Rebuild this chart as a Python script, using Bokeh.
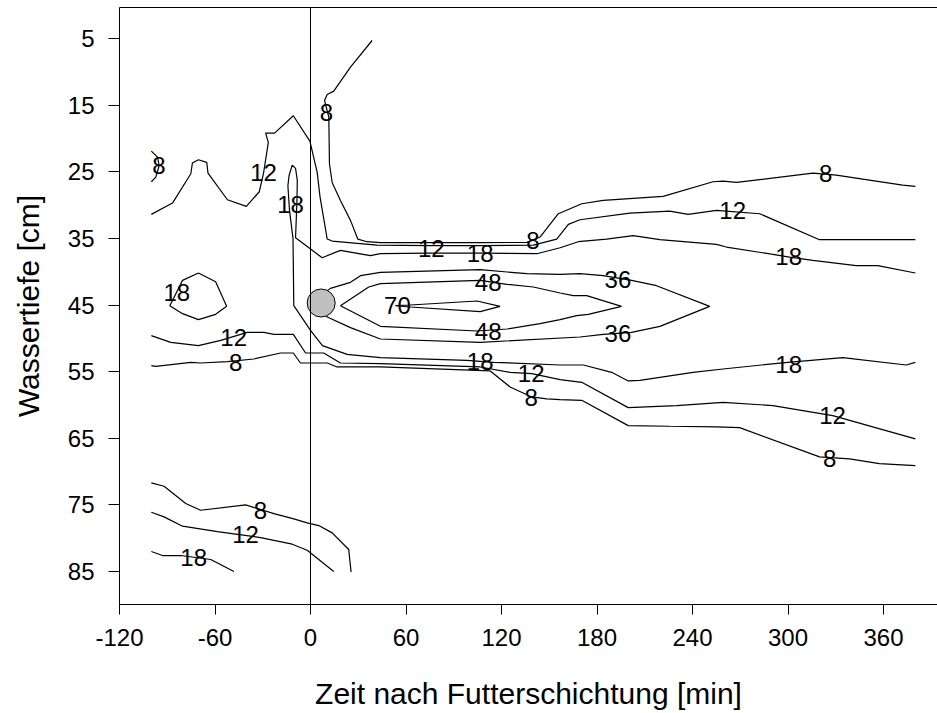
from bokeh.plotting import figure
from bokeh.models import Range1d, FixedTicker, LinearAxis, Span
from bokeh.core.properties import value
from bokeh.embed import file_html
from bokeh.resources import INLINE

# ---------------- data ----------------
x_ticks = [-120, -60, 0, 60, 120, 180, 240, 300, 360]
x_tick_labels = ["-120", "-60", "0", "60", "120", "180", "240", "300", "360"]
y_ticks = [5, 15, 25, 35, 45, 55, 65, 75, 85]
y_tick_labels = ["5", "15", "25", "35", "45", "55", "65", "75", "85"]

# contour 8 (upper, from top down into the trough and out to the right)
c8_up_x = [38.7, 25.1, 14.6, 10.5, 8.8, 11.5, 11.9, 13.6, 18.8, 25.1, 29.7, 35.5, 43.9, 75.2, 106.6,
           135.9, 144.2, 155.7, 170.4, 183.9, 221.5, 252.9, 259.2, 267.6, 315.6, 330.3, 372.0, 380.0]
c8_up_y = [5.3, 9.3, 12.9, 13.4, 14.3, 16.8, 23.8, 26.6, 29.3, 32.3, 35.1, 35.5, 35.65, 35.65, 35.65,
           35.6, 34.8, 31.3, 29.8, 29.3, 28.7, 26.5, 26.4, 26.6, 25.2, 25.5, 27.0, 27.2]

# contour 12 (upper)
c12_up_x = [-100, -86.7, -75.2, -74.2, -70.4, -65.2, -64.4, -52.2, -40.3, -32.2, -29.5, -26.5, -28.2,
            -22.6, -10.8, -0.4, 4.2, 6.0, 10.5, 13.6, 41.8, 75.2, 106.6, 140.0, 154.7, 162.0, 169.3,
            200.7, 225.7, 237.2, 255.0, 282.2, 319.8, 380.0]
c12_up_y = [31.4, 29.7, 25.3, 23.7, 23.2, 23.6, 25.2, 29.2, 30.2, 28.0, 25.2, 20.6, 19.2,
            19.2, 16.6, 20.4, 25.1, 28.8, 35.1, 35.4, 36.0, 36.1, 36.1, 36.0, 35.1, 32.9, 32.2,
            31.2, 30.9, 31.4, 30.8, 31.3, 35.2, 35.2]

# contour 18 (upper branch, spike at t<0 and lower branch)
c18_x = [380.0, 356.4, 342.8, 315.6, 301.0, 261.3, 255.0, 219.5, 202.7, 186.0, 168.2, 156.8, 142.2,
         106.6, 75.2, 43.9, 37.6, 18.8, 7.3, -9.4, -8.5, -8.3, -9.4, -11.5, -13.5, -14.2, -13.2,
         -11.0, -10.5, 0.0, 7.5, 23.0, 43.9, 98.3, 115.0, 156.8, 171.4, 189.2, 199.6, 206.9,
         240.3, 259.2, 299.9, 334.4, 374.2, 380.0]
c18_y = [40.2, 39.1, 39.1, 38.3, 37.8, 36.3, 35.9, 35.2, 34.6, 35.1, 35.5, 36.4, 37.3,
         37.2, 37.2, 37.3, 37.6, 36.8, 37.9, 34.9, 29.3, 26.3, 24.5, 24.0, 25.6, 27.1, 30.8,
         35.0, 45.1, 48.8, 51.1, 52.4, 52.9, 53.3, 53.6, 54.0, 54.0, 55.1, 56.4, 56.3,
         55.1, 54.6, 53.6, 52.9, 54.0, 53.6]

# contour 36 (closed)
c36_x = [12.5, 25.1, 31.4, 43.9, 106.6, 135.9, 156.8, 169.3, 183.9, 201.7, 217.4, 250.8, 219.5,
         201.7, 183.9, 169.3, 106.6, 43.9, 25.1, 10.5, 1.3, 12.5]
c36_y = [42.5, 41.6, 40.6, 40.1, 39.7, 40.3, 40.4, 40.3, 40.6, 41.3, 42.1, 45.2, 48.2,
         49.1, 49.4, 49.8, 50.6, 50.1, 48.4, 46.8, 44.6, 42.5]

# contour 48 (closed)
c48_x = [18.8, 36.6, 43.9, 106.6, 123.4, 140.0, 156.8, 165.1, 173.5, 195.4, 174.5, 167.2, 156.8,
         144.2, 123.4, 104.6, 43.9, 18.8]
c48_y = [45.1, 42.3, 41.8, 41.3, 41.9, 42.3, 43.2, 43.6, 43.6, 45.2, 46.4, 46.6, 47.2,
         47.8, 48.6, 48.9, 48.2, 45.1]

# contour 70 (closed)
c70_x = [53.3, 62.7, 104.6, 119.1, 106.6, 62.7, 53.3]
c70_y = [45.1, 45.0, 44.4, 45.2, 46.0, 45.3, 45.1]

# small closed 18 at t = -70
c18_small_x = [-70.4, -59.6, -52.7, -59.6, -70.4, -80.4, -88.4, -80.4, -70.4]
c18_small_y = [40.2, 41.5, 45.2, 46.4, 47.2, 46.3, 45.1, 41.3, 40.2]

# small 8 arc at left edge
c8_small_x = [-100, -96.1, -95.1, -97.2, -100]
c8_small_y = [21.9, 22.8, 24.1, 25.8, 26.5]

# lower 12 and 8 contours
c12_lo_x = [-100, -87.8, -70.4, -56.4, -39.7, -29.3, -23.0, -10.8, -3.1, 8.3, 18.8, 43.9, 106.6,
            125.4, 139.0, 156.8, 170.4, 199.6, 229.9, 259.2, 290.5, 328.1, 380.0]
c12_lo_y = [49.6, 50.6, 51.1, 50.3, 49.1, 49.1, 49.4, 49.4, 52.2, 52.2, 53.7, 53.8, 54.3,
            55.1, 55.3, 56.2, 56.6, 60.4, 60.1, 59.6, 60.1, 61.6, 65.1]
c8_lo_x = [-100, -97.2, -75.2, -69.0, -52.2, -35.6, -18.8, -10.8, -6.3, 10.5, 16.7, 43.9, 112.9,
           125.4, 139.0, 148.4, 156.8, 170.4, 199.6, 225.7, 255.0, 269.6, 319.8, 338.6, 357.4, 380.0]
c8_lo_y = [54.1, 54.2, 53.6, 53.7, 53.5, 53.1, 52.2, 52.2, 53.7, 53.7, 54.3, 54.3, 54.9,
           57.3, 58.8, 59.1, 59.2, 59.3, 63.1, 63.2, 63.3, 63.4, 67.8, 68.1, 68.8, 69.1]

# bottom contours
c8_bot_x = [-100, -92.0, -78.4, -69.0, -40.8, -23.0, -10.5, -2.1, 5.2, 13.6, 24.0, 25.5]
c8_bot_y = [71.7, 72.2, 74.8, 75.8, 75.0, 76.3, 77.1, 77.7, 78.1, 79.2, 81.7, 85.1]
c12_bot_x = [-100, -92.0, -80.4, -58.5, -31.4, -11.5, -2.1, 14.6]
c12_bot_y = [76.1, 76.8, 78.2, 79.0, 79.9, 80.9, 81.8, 85.0]
c18_bot_x = [-100, -93.0, -81.5, -62.7, -48.1]
c18_bot_y = [82.0, 82.6, 82.6, 83.2, 85.0]

# contour labels
lab_x = [10.0, -95.3, -29.5, -12.5, 139.8, 75.9, 106.6, 323.6, 265.2, 300.4, 193.1, 111.6, 54.6,
         111.6, 193.1, -84.0, -48.3, -47.0, 106.6, 138.6, 138.6, 300.4, 328.0, 326.1, -31.4, -40.8, -73.4]
lab_y = [16.1, 24.1, 25.1, 29.9, 35.3, 36.5, 37.3, 25.3, 30.8, 37.7, 41.2, 41.6, 45.1,
         49.0, 49.3, 43.1, 49.9, 53.6, 53.5, 55.3, 58.9, 53.9, 61.6, 68.0, 75.8, 79.4, 82.9]
lab_t = ["8", "8", "12", "18", "8", "12", "18", "8", "12", "18", "36", "48", "70",
         "48", "36", "18", "12", "8", "18", "12", "8", "18", "12", "8", "8", "12", "18"]

# feeding point marker
pt_x = [6.7]
pt_y = [44.7]

# ---------------- figure ----------------
p = figure(width=937, height=713,
           x_range=Range1d(-120, 393.9), y_range=Range1d(89.95, 0.347),
           output_backend="svg", toolbar_location=None,
           min_border_left=119, min_border_right=0, min_border_top=7, min_border_bottom=109)
p.outline_line_color = None
p.grid.visible = False

FONT = "Liberation Sans"

for ax in (p.xaxis[0], p.yaxis[0]):
    ax.axis_line_color = "black"
    ax.axis_line_width = 1
    ax.major_tick_line_color = "black"
    ax.major_tick_line_width = 1
    ax.major_tick_in = 0
    ax.minor_tick_line_color = None
    ax.major_label_text_font = FONT
    ax.major_label_text_font_size = "24px"
    ax.major_label_text_color = "black"
    ax.axis_label_text_font = FONT
    ax.axis_label_text_font_size = "30px"
    ax.axis_label_text_font_style = "normal"
    ax.axis_label_text_color = "black"

p.xaxis.ticker = FixedTicker(ticks=x_ticks)
p.yaxis.ticker = FixedTicker(ticks=y_ticks)
p.xaxis.major_label_overrides = dict(zip(x_ticks, x_tick_labels))
p.yaxis.major_label_overrides = dict(zip(y_ticks, y_tick_labels))
p.xaxis.major_tick_out = 10
p.yaxis.major_tick_out = 11
p.xaxis.major_label_standoff = 14
p.yaxis.major_label_standoff = 14
p.xaxis.axis_label = "Zeit nach Futterschichtung [min]"
p.yaxis.axis_label = "Wassertiefe [cm]"
p.xaxis.axis_label_standoff = 28
p.yaxis.axis_label_standoff = 20

top_axis = LinearAxis(ticker=FixedTicker(ticks=[]), major_tick_out=0, major_tick_in=0,
                      minor_tick_out=0, minor_tick_in=0, major_label_standoff=0,
                      major_label_text_font_size="0px", axis_line_color="black",
                      axis_line_width=1)
p.add_layout(top_axis, "above")

p.add_layout(Span(location=0, dimension="height", line_color="black", line_width=1))

lines = [(c8_up_x, c8_up_y), (c12_up_x, c12_up_y), (c18_x, c18_y), (c36_x, c36_y),
         (c48_x, c48_y), (c70_x, c70_y), (c18_small_x, c18_small_y), (c8_small_x, c8_small_y),
         (c12_lo_x, c12_lo_y), (c8_lo_x, c8_lo_y), (c8_bot_x, c8_bot_y),
         (c12_bot_x, c12_bot_y), (c18_bot_x, c18_bot_y)]
for lx, ly in lines:
    p.line(x=lx, y=ly, line_color="black", line_width=1.2)

p.text(x=lab_x, y=lab_y, text=lab_t, text_font=value(FONT), text_font_size="24px",
       text_color="black", text_align="center", text_baseline="middle")

p.scatter(x=pt_x, y=pt_y, size=28, fill_color="#c0c0c0", line_color="black", line_width=1)

open("out.html", "w").write(file_html(p, INLINE))
